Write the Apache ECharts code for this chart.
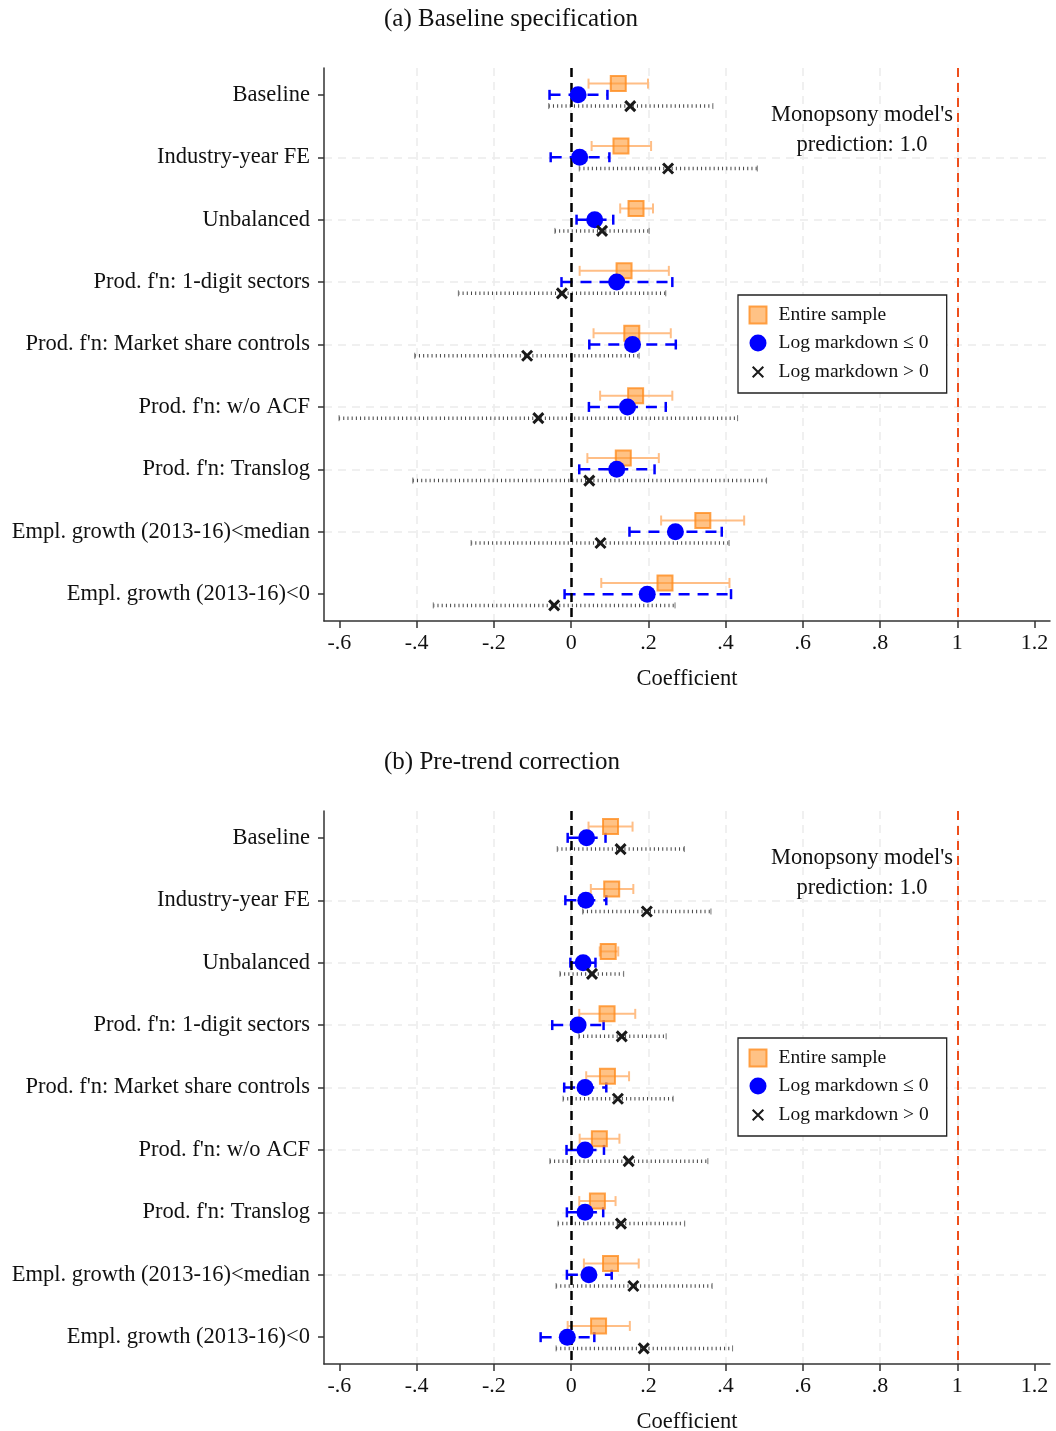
<!DOCTYPE html>
<html><head><meta charset="utf-8">
<script src="https://cdn.jsdelivr.net/npm/echarts@6/dist/echarts.min.js"></script>
<style>html,body{margin:0;padding:0;background:#fff}#c{width:1056px;height:1431px}</style>
</head><body><div id="c"></div><script>
const categories = ['Baseline','Industry-year FE','Unbalanced',"Prod. f'n: 1-digit sectors","Prod. f'n: Market share controls","Prod. f'n: w/o ACF","Prod. f'n: Translog",'Empl. growth (2013-16)<median','Empl. growth (2013-16)<0'];
const xTicks = [-0.6,-0.4,-0.2,0,0.2,0.4,0.6,0.8,1,1.2];
const seriesNames = ['Entire sample','Log markdown \u2264 0','Log markdown > 0'];
const panelTitles = ['(a) Baseline specification','(b) Pre-trend correction'];
const annotation = "Monopsony model's\nprediction: 1.0";
const zeroLine = 0;
const predictionLine = 1;

// [coefficient, CI low, CI high]
const aEntire = [[0.122,0.045,0.199],[0.129,0.053,0.207],[0.168,0.127,0.212],[0.137,0.022,0.253],[0.157,0.058,0.258],[0.167,0.075,0.262],[0.135,0.042,0.227],[0.341,0.233,0.448],[0.243,0.078,0.410]];
const aNeg    = [[0.018,-0.056,0.094],[0.022,-0.053,0.099],[0.061,0.014,0.109],[0.118,-0.025,0.262],[0.159,0.047,0.271],[0.146,0.046,0.245],[0.118,0.021,0.216],[0.270,0.151,0.390],[0.197,-0.017,0.414]];
const aPos    = [[0.153,-0.058,0.367],[0.251,0.021,0.482],[0.080,-0.042,0.202],[-0.024,-0.292,0.245],[-0.114,-0.405,0.176],[-0.085,-0.601,0.431],[0.047,-0.410,0.506],[0.076,-0.259,0.409],[-0.044,-0.357,0.269]];
const bEntire = [[0.102,0.045,0.159],[0.105,0.051,0.161],[0.096,0.074,0.122],[0.093,0.021,0.166],[0.094,0.039,0.150],[0.073,0.022,0.125],[0.068,0.021,0.115],[0.102,0.033,0.175],[0.071,-0.009,0.152]];
const bNeg    = [[0.040,-0.009,0.089],[0.038,-0.015,0.091],[0.031,-0.002,0.063],[0.018,-0.049,0.084],[0.036,-0.018,0.091],[0.036,-0.012,0.085],[0.036,-0.011,0.083],[0.046,-0.011,0.105],[-0.010,-0.079,0.060]];
const bPos    = [[0.128,-0.036,0.293],[0.196,0.030,0.362],[0.054,-0.029,0.136],[0.131,0.020,0.246],[0.121,-0.021,0.264],[0.149,-0.055,0.354],[0.129,-0.034,0.294],[0.161,-0.039,0.365],[0.188,-0.039,0.418]];

const FONT = "'Liberation Serif', 'DejaVu Serif', serif";
const OFFSETS = [-0.18, 0, 0.18];
const CROSS = 'path://M0,0L10,10M10,0L0,10';
const CROSS_LEGEND = 'path://M0,0L10,10M10,0L0,10M-3,-3L-3,-3M13,13L13,13';
const styles = [
  {sym:'rect', size:15, item:{color:'rgba(255,153,51,0.6)', borderColor:'rgba(255,140,30,0.8)', borderWidth:2, opacity:1}, line:{color:'#ffbe86', width:2, dash:null}, cap:5, capW:2},
  {sym:'circle', size:17, item:{color:'#0000ff', opacity:1}, line:{color:'#0000ff', width:2.5, dash:[11,8]}, cap:5, capW:2.5},
  {sym:CROSS, size:10, item:{color:'none', borderColor:'#1a1a1a', borderWidth:3, opacity:1}, line:{color:'#444', width:3.5, dash:[1,3.2]}, cap:3, capW:1}
];

const panels = [[aEntire,aNeg,aPos],[bEntire,bNeg,bPos]];
const gridTops = [68, 811];

const grids = [], xAxes = [], yAxes = [], series = [], legends = [], titles = [], graphics = [];
panels.forEach((pd, p) => {
  grids.push({left:324, top:gridTops[p], width:726, height:553, containLabel:false, outerBoundsMode:'none'});
  xAxes.push({type:'value', gridIndex:p, min:-0.64, max:1.24, splitNumber:9,
    name:'Coefficient', nameLocation:'middle', nameGap:47,
    nameTextStyle:{fontFamily:FONT, fontSize:22.5, color:'#111'},
    axisLine:{show:true, onZero:false, lineStyle:{color:'#333', width:1.5}},
    axisTick:{show:true, customValues:xTicks, length:7, lineStyle:{color:'#333', width:1.5}},
    axisLabel:{customValues:xTicks, margin:11, fontFamily:FONT, fontSize:22, color:'#111',
      formatter:v=>{const r=Math.round(v*10)/10; let s=String(r); return s.replace(/^0\./,'.').replace(/^-0\./,'-.');}},
    splitLine:{show:true, showMinLine:false, showMaxLine:false, lineStyle:{color:'#ebebeb', width:1.5, type:[8,6]}}
  });
  yAxes.push({type:'value', gridIndex:p, inverse:true, min:0.57, max:9.43, splitNumber:9,
    axisLine:{show:true, onZero:false, lineStyle:{color:'#333', width:1.5}},
    axisTick:{show:true, customValues:[1,2,3,4,5,6,7,8,9], length:6, lineStyle:{color:'#333', width:1.5}},
    axisLabel:{customValues:[1,2,3,4,5,6,7,8,9], margin:14, fontFamily:FONT, fontSize:22.5, color:'#111',
      formatter:v=>categories[Math.round(v)-1]||''},
    splitLine:{show:true, showMinLine:false, showMaxLine:false, lineStyle:{color:'#ebebeb', width:1.5, type:[8,6]}}
  });
  [2,0,1].forEach(s => {
    const st = styles[s];
    const off = OFFSETS[s];
    const ciData = pd[s].map((d,i)=>[d[1], d[2], i+1+off]);
    series.push({type:'custom', xAxisIndex:p, yAxisIndex:p, silent:true, z:2+s,
      data:ciData, encode:{x:[0,1], y:2},
      renderItem:(params, api)=>{
        const a = api.coord([api.value(0), api.value(2)]);
        const b = api.coord([api.value(1), api.value(2)]);
        const ls = {stroke:st.line.color, lineWidth:st.line.width};
        if (st.line.dash) ls.lineDash = st.line.dash;
        const cs = {stroke: s===2 ? '#777' : st.line.color, lineWidth:st.capW};
        return {type:'group', children:[
          {type:'line', shape:{x1:a[0], y1:a[1], x2:b[0], y2:b[1]}, style:ls},
          {type:'line', shape:{x1:a[0], y1:a[1]-st.cap, x2:a[0], y2:a[1]+st.cap}, style:cs},
          {type:'line', shape:{x1:b[0], y1:b[1]-st.cap, x2:b[0], y2:b[1]+st.cap}, style:cs}
        ]};
      }
    });
    series.push({type:'scatter', name:seriesNames[s], xAxisIndex:p, yAxisIndex:p, z:5+s,
      symbol:st.sym, symbolSize:st.size, itemStyle:st.item,
      data:pd[s].map((d,i)=>[d[0], i+1+off])
    });
  });
  series.push({type:'line', xAxisIndex:p, yAxisIndex:p, data:[], silent:true, z:4,
    markLine:{silent:true, symbol:['none','none'], label:{show:false}, animation:false,
      data:[
        {xAxis:zeroLine, lineStyle:{color:'#000', width:2.5, type:[9,6]}},
        {xAxis:predictionLine, lineStyle:{color:'#ee4f1c', width:2, type:[9,6]}}
      ]}
  });
  legends.push({show:true, orient:'vertical', left:738, top:gridTops[p]+227,
    data:[{name:seriesNames[0], icon:'rect'},{name:seriesNames[1], icon:'circle'},{name:seriesNames[2], icon:CROSS_LEGEND}],
    itemWidth:17, itemHeight:17, itemGap:8, padding:[10,18,10,9],
    borderColor:'#222', borderWidth:1.3, backgroundColor:'#fff', selectedMode:false,
    textStyle:{fontFamily:FONT, fontSize:19.5, color:'#111', padding:[0,0,0,7]}
  });
  titles.push({text:panelTitles[p], left:379, top:gridTops[p]-66,
    textStyle:{fontFamily:FONT, fontSize:25, fontWeight:'normal', color:'#111'}});
  graphics.push({x:862, y:gridTops[p]+32,
    style:{text:annotation, x:0, y:0, align:'center', verticalAlign:'top', fontFamily:FONT, fontSize:22.5, lineHeight:30, fill:'#111'}});
});

const chart = echarts.init(document.getElementById('c'), null, {renderer:'canvas'});
chart.setOption({
  animation:false, backgroundColor:'#fff',
  title:titles, legend:legends, grid:grids, xAxis:xAxes, yAxis:yAxes, series:series,
  graphic:graphics.map(g=>({type:'text', x:g.x, y:g.y, style:g.style, z:100}))
});
</script></body></html>
